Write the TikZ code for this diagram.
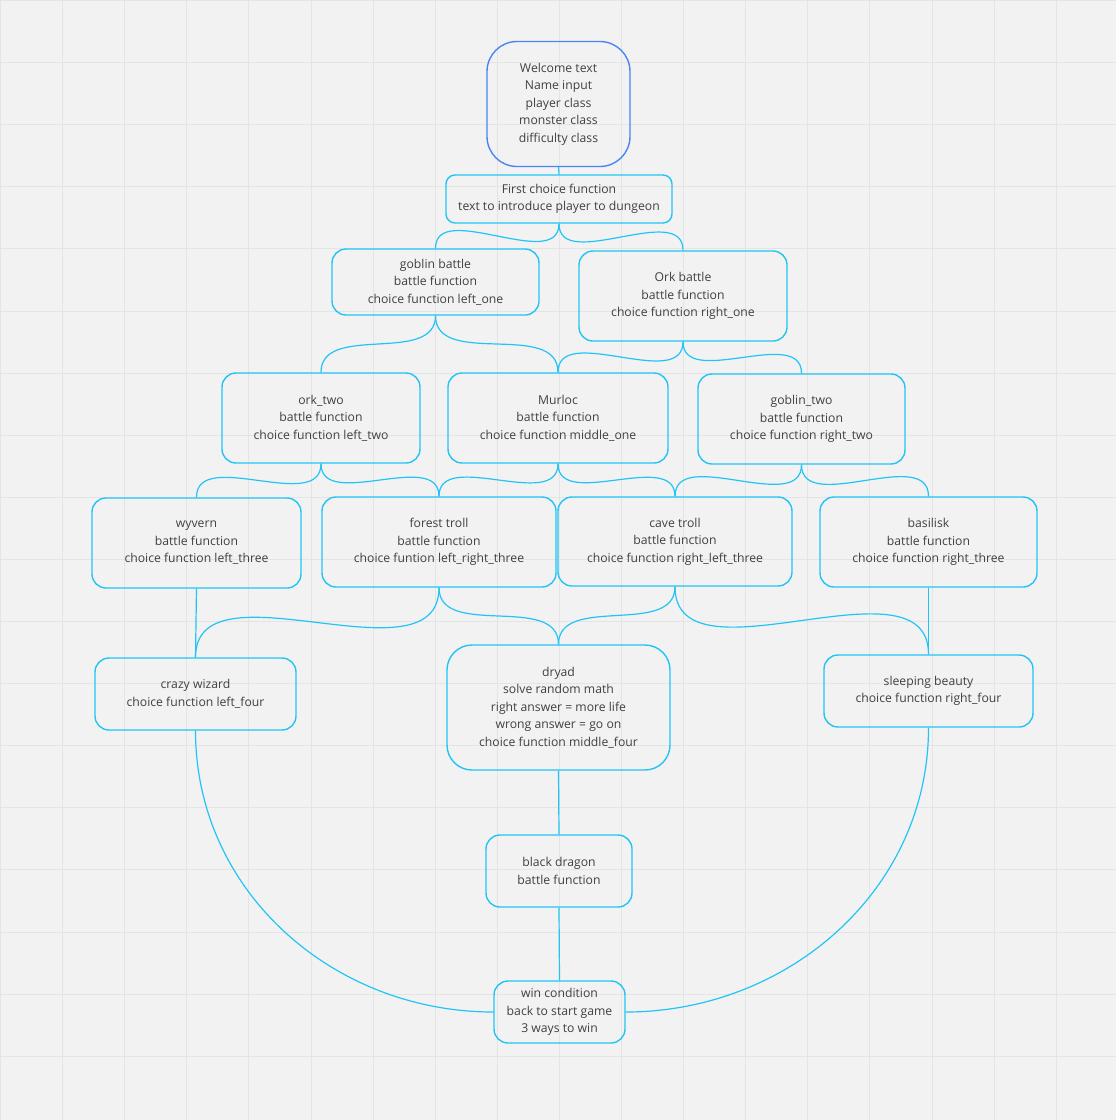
\documentclass[tikz,border=0pt]{standalone}
\usepackage{fontspec}
\setmainfont{Open Sans}
\usetikzlibrary{positioning}
\definecolor{boardbg}{HTML}{F2F2F2}
\definecolor{gridgrey}{HTML}{E4E4E4}
\definecolor{linkcyan}{HTML}{22C4F5}
\definecolor{startblue}{HTML}{4A84F6}
\definecolor{textgrey}{HTML}{404040}
\tikzset{
        gamenode/.style={align=center, inner sep=0pt, rectangle, draw=linkcyan, line width=1.4pt, text=textgrey, font=\fontsize{12.2}{17.5}\selectfont},
        % Start node
        node_start/.style={gamenode, draw=startblue, rounded corners=30pt},
        % Battle and choice nodes
        node_step/.style={gamenode, rounded corners=14pt},
        % Curly connectors
        link/.style={draw=linkcyan, line width=1.2pt},
        link_curved/.style={link, out=-90, in=90}
}
\begin{document}
\begin{tikzpicture}[x=1pt, y=1pt]
    \useasboundingbox (0,0) rectangle (1116,-1120);
    \fill[boardbg] (0,0) rectangle (1116,-1120);
    \foreach \k in {0,...,17} {
        \draw[gridgrey, line width=1pt] ({0.5+62.1*\k},0) -- ++(0,-1120);
        \draw[gridgrey, line width=1pt] (0,{-0.5-62.1*\k}) -- ++(1116,0);
    }

    \node[node_start, minimum width=143, minimum height=125] (welcome) at (558.5,-104)
        {Welcome text\\Name input\\player class\\monster class\\difficulty class};
    \node[node_step, rounded corners=9pt, minimum width=226, minimum height=48] (first) at (559,-199)
        {First choice function\\text to introduce player to dungeon};

    \node[node_step, minimum width=207, minimum height=66] (goblin) at (435.5,-282)
        {goblin battle\\battle function\\choice function left\_one};
    \node[node_step, minimum width=208, minimum height=90] (ork) at (683,-296)
        {Ork battle\\battle function\\choice function right\_one};

    \node[node_step, minimum width=198, minimum height=90] (ork_two) at (321,-418)
        {ork\_two\\battle function\\choice function left\_two};
    \node[node_step, minimum width=220, minimum height=90] (murloc) at (558,-418)
        {Murloc\\battle function\\choice function middle\_one};
    \node[node_step, minimum width=207, minimum height=90] (goblin_two) at (801.5,-419)
        {goblin\_two\\battle function\\choice function right\_two};

    \node[node_step, minimum width=209, minimum height=90] (wyvern) at (196.5,-543)
        {wyvern\\battle function\\choice function left\_three};
    \node[node_step, minimum width=234, minimum height=90] (forest_troll) at (439,-542)
        {forest troll\\battle function\\choice funtion left\_right\_three};
    \node[node_step, minimum width=234, minimum height=89] (cave_troll) at (675,-541.5)
        {cave troll\\battle function\\choice function right\_left\_three};
    \node[node_step, minimum width=217, minimum height=90] (basilisk) at (928.5,-542)
        {basilisk\\battle function\\choice function right\_three};

    \node[node_step, minimum width=201, minimum height=72] (wizard) at (195.5,-694)
        {crazy wizard\\choice function left\_four};
    \node[node_step, rounded corners=25pt, minimum width=223, minimum height=125] (dryad) at (558.5,-707.5)
        {dryad\\solve random math\\right answer = more life\\wrong answer = go on\\choice function middle\_four};
    \node[node_step, minimum width=209, minimum height=72] (beauty) at (928.5,-691)
        {sleeping beauty\\choice function right\_four};

    \node[node_step, minimum width=146, minimum height=72] (dragon) at (559,-871)
        {black dragon\\battle function};
    \node[node_step, minimum width=131, minimum height=62] (win) at (559.5,-1012)
        {win condition\\back to start game\\3 ways to win};

    % straight links
    \draw[link] (welcome.south) -- (first.north);
    \draw[link] (wyvern.south) -- (wizard.north);
    \draw[link] (basilisk.south) -- (beauty.north);
    \draw[link] (dryad.south) -- (dragon.north);
    \draw[link] (dragon.south) -- (win.north);

    % curly links
    \draw[link_curved] (first.south) to (goblin.north);
    \draw[link_curved] (first.south) to (ork.north);
    \draw[link_curved] (goblin.south) to (ork_two.north);
    \draw[link_curved] (goblin.south) to (murloc.north);
    \draw[link_curved] (ork.south) to (murloc.north);
    \draw[link_curved] (ork.south) to (goblin_two.north);
    \draw[link_curved] (ork_two.south) to (wyvern.north);
    \draw[link_curved] (ork_two.south) to (forest_troll.north);
    \draw[link_curved] (murloc.south) to (forest_troll.north);
    \draw[link_curved] (murloc.south) to (cave_troll.north);
    \draw[link_curved] (goblin_two.south) to (cave_troll.north);
    \draw[link_curved] (goblin_two.south) to (basilisk.north);
    \draw[link_curved] (forest_troll.south) to (wizard.north);
    \draw[link_curved] (forest_troll.south) to (dryad.north);
    \draw[link_curved] (cave_troll.south) to (dryad.north);
    \draw[link_curved] (cave_troll.south) to (beauty.north);

    % ways to win
    \draw[link] (wizard.south) to[out=-90, in=180] (win.west);
    \draw[link] (beauty.south) to[out=-90, in=0] (win.east);
\end{tikzpicture}
\end{document}
